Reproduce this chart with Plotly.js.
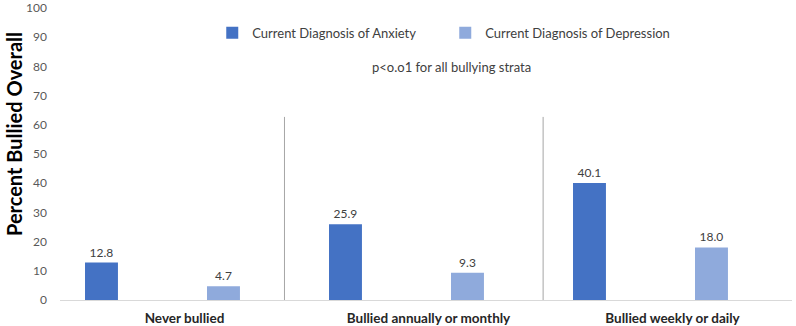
<!DOCTYPE html>
<html>
<head>
<meta charset="utf-8">
<script src="https://cdn.plot.ly/plotly-3.0.1.min.js"></script>
<style>html,body{margin:0;padding:0;background:#fff;}#chart{width:796px;height:326px;}</style>
</head>
<body>
<div id="chart"></div>
<script>
const categories = ["Never bullied", "Bullied annually or monthly", "Bullied weekly or daily"];
const anxiety = [12.8, 25.9, 40.1];
const depression = [4.7, 9.3, 18.0];
const seriesNames = ["Current Diagnosis of Anxiety", "Current Diagnosis of Depression"];
const yTicks = [0, 10, 20, 30, 40, 50, 60, 70, 80, 90, 100];
const noteText = "p<o.o1 for all bullying strata";
const yTitle = "Percent Bullied Overall";

const FONT = "Lato, 'Open Sans', sans-serif";

const traces = [
  {type: "bar", name: seriesNames[0], x: categories, y: anxiety,
   marker: {color: "#4472C4"}, text: anxiety.map(v => v.toFixed(1)),
   textposition: "outside", cliponaxis: false,
   textfont: {family: FONT, size: 12, color: "#404040"}, hoverinfo: "none"},
  {type: "bar", name: seriesNames[1], x: categories, y: depression,
   marker: {color: "#8FAADC"}, text: depression.map(v => v.toFixed(1)),
   textposition: "outside", cliponaxis: false,
   textfont: {family: FONT, size: 12, color: "#404040"}, hoverinfo: "none"}
];

const layout = {
  width: 796, height: 326,
  margin: {l: 60, r: 4, t: 8, b: 26, pad: 0},
  paper_bgcolor: "#ffffff", plot_bgcolor: "#ffffff",
  font: {family: FONT, color: "#595959"},
  barmode: "group", bargap: 0, bargroupgap: 0.73,
  showlegend: true,
  legend: {orientation: "h", x: 0.208, xanchor: "left", y: 0.915, yanchor: "middle",
           font: {family: FONT, size: 13, color: "#404040"}, entrywidth: 188,
           bgcolor: "rgba(0,0,0,0)"},
  xaxis: {type: "category", range: [-0.42, 2.58], showline: true, linecolor: "#D9D9D9",
          linewidth: 1, ticks: "", showgrid: false, zeroline: false, fixedrange: true,
          ticklabelshift: 22, ticklabelstandoff: 6,
          tickfont: {family: FONT, size: 13.5, color: "#262626", weight: "bold"}},
  yaxis: {range: [0, 100], tickvals: yTicks, showline: false, showgrid: false, zeroline: false,
          ticks: "", ticklabelstandoff: 12, fixedrange: true,
          tickfont: {family: FONT, size: 12, color: "#595959"}},
  shapes: [0.5, 1.56].map(xv => ({type: "line", xref: "x", yref: "y", x0: xv, x1: xv, y0: 0, y1: 62.7,
           line: {color: "#A6A6A6", width: 1}})),
  annotations: [
    {text: noteText, xref: "paper", yref: "paper", x: 0.535, y: 0.797, xanchor: "center", yanchor: "middle",
     showarrow: false, font: {family: FONT, size: 13, color: "#404040"}},
    {text: yTitle, xref: "paper", yref: "paper", x: -0.063, xanchor: "center", y: 0.568, yanchor: "middle",
     textangle: -90, showarrow: false, font: {family: FONT, size: 20, color: "#000000", weight: "bold"}}
  ]
};

Plotly.newPlot("chart", traces, layout, {displayModeBar: false, staticPlot: true});
</script>
</body>
</html>
